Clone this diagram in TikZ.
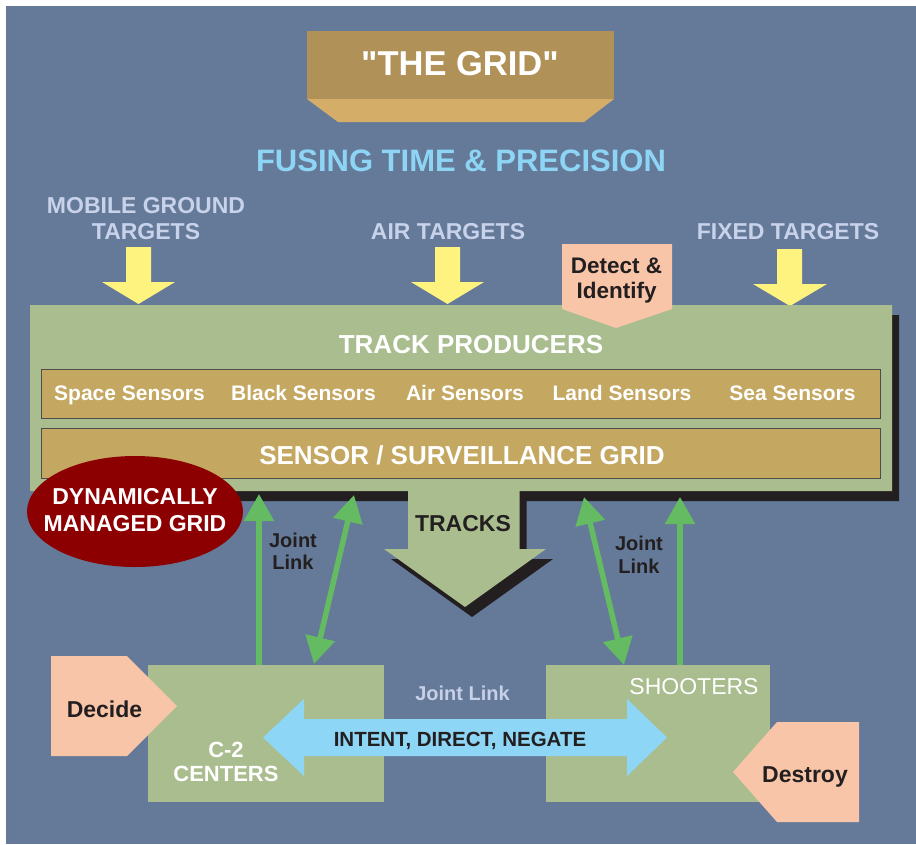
\documentclass[tikz,border=0pt]{standalone}
\usepackage{fontspec}
\setmainfont{Liberation Sans}
\newfontfamily\qfont{Liberation Sans}[Ligatures=TeXOff]
\usetikzlibrary{arrows.meta,shapes.geometric}
\definecolor{bgblue}{HTML}{647A98}
\definecolor{titletop}{HTML}{B09157}
\definecolor{titlebot}{HTML}{D4AD68}
\definecolor{fusecol}{HTML}{8ED4F4}
\definecolor{tgtcol}{HTML}{C8D2EA}
\definecolor{yel}{HTML}{FFF380}
\definecolor{peach}{HTML}{F8C5A8}
\definecolor{sage}{HTML}{A9BD8F}
\definecolor{tan}{HTML}{C4A862}
\definecolor{darkred}{HTML}{8C0002}
\definecolor{agreen}{HTML}{65BB62}
\definecolor{ablue}{HTML}{8DD6F6}
\definecolor{ink}{HTML}{231F20}
\definecolor{jlcol}{HTML}{C8D0E8}
\newcommand\fsz[1]{\fontsize{#1}{#1}\selectfont}
\begin{document}
\begin{tikzpicture}[x=1pt,y=-1pt,
  lbl/.style={anchor=base,inner sep=0pt,outer sep=0pt},
  wtxt/.style={lbl,text=white,font=\bfseries\fsz{#1}},
  dtxt/.style={lbl,text=ink,font=\bfseries\fsz{#1}},
  ttxt/.style={lbl,text=tgtcol,font=\bfseries\fsz{23}},
  yarrow/.style={fill=yel},
  peachshape/.style={fill=peach},
  sagefill/.style={fill=sage},
  tanbox/.style={fill=tan,draw=ink!80,line width=0.9pt},
  garrow/.style={draw=agreen,line width=5.5pt,-{Triangle[length=27pt,width=29pt]}},
  gdarrow/.style={draw=agreen,line width=5.5pt,{Triangle[length=27pt,width=29pt]}-{Triangle[length=27pt,width=29pt]}},
  greenbox/.style={fill=sage,inner sep=0pt,minimum width=#1,minimum height=137pt}
]
\useasboundingbox (0,0) rectangle (916,844);
\fill[white] (0,0) rectangle (916,844);
\fill[bgblue] (6,6) rectangle (916,844);

% title
\fill[titletop] (307,31) rectangle (614,99);
\fill[titlebot] (307,99) -- (614,99) -- (584,122) -- (338,122) -- cycle;
\node[lbl,text=white,font=\qfont\bfseries\fsz{34.5}] (title) at (460,75) {"THE GRID"};
\node[lbl,text=fusecol,font=\bfseries\fsz{31}] (fusing) at (461,171) {FUSING TIME \& PRECISION};

% target labels
\node[ttxt] (mob1) at (146,213) {MOBILE GROUND};
\node[ttxt] (mob2) at (146,239.5) {TARGETS};
\node[ttxt] (air) at (448,239) {AIR TARGETS};
\node[ttxt] (fixed) at (788,239) {FIXED TARGETS};

% yellow block arrows
\fill[yarrow] (126,247) -- (151,247) -- (151,282) -- (175,282) -- (138.5,304) -- (102,282) -- (126,282) -- cycle;
\fill[yarrow] (435,247) -- (460,247) -- (460,282) -- (484,282) -- (447.5,304) -- (411,282) -- (435,282) -- cycle;
\fill[yarrow] (777,249) -- (802,249) -- (802,284) -- (827,284) -- (790,306) -- (753,284) -- (777,284) -- cycle;

% main box with TRACKS arrow: shadow then face
\fill[ink] (37,315) -- (899,315) -- (899,501) -- (526.5,501) -- (526.5,559) -- (553,559) -- (472,617) -- (391,559) -- (415,559) -- (415,501) -- (37,501) -- cycle;
\fill[sagefill] (30,305) -- (892,305) -- (892,491) -- (519.5,491) -- (519.5,549) -- (546,549) -- (465,607) -- (384,549) -- (408,549) -- (408,491) -- (30,491) -- cycle;

% Detect & Identify
\fill[peachshape] (562,244) -- (672,244) -- (672,309) -- (616,328) -- (562,309) -- cycle;
\node[dtxt=22.5] (det1) at (616.5,273) {Detect \&};
\node[dtxt=22.5] (det2) at (616.5,298) {Identify};

\node[wtxt=26] (tp) at (471,353) {TRACK PRODUCERS};
\node[tanbox,anchor=north west,minimum width=839pt,minimum height=49pt,inner sep=0pt] (sensors) at (41,369) {};
\node[wtxt=21] (s1) at (129.5,400) {Space Sensors};
\node[wtxt=21] (s2) at (303.5,400) {Black Sensors};
\node[wtxt=21] (s3) at (465,400) {Air Sensors};
\node[wtxt=21] (s4) at (622,400) {Land Sensors};
\node[wtxt=21] (s5) at (792.5,400) {Sea Sensors};
\node[tanbox,anchor=north west,minimum width=839pt,minimum height=50pt,inner sep=0pt] (ssg) at (41,428) {};
\node[wtxt=26] (ssgt) at (462,464) {SENSOR / SURVEILLANCE GRID};
\node[dtxt=23] (tracks) at (463,531) {TRACKS};

% dynamically managed grid
\node[ellipse,fill=darkred,minimum width=216pt,minimum height=111pt,inner sep=0pt] (dmg) at (135,511.5) {};
\node[wtxt=23] (dmg1) at (135,504) {DYNAMICALLY};
\node[wtxt=23] (dmg2) at (135,531) {MANAGED GRID};

% bottom boxes
\node[greenbox=236pt] (c2) at (266,733.5) {};
\node[greenbox=224pt] (shoot) at (658,733.5) {};
\node[wtxt=22] (c2a) at (226,757) {C-2};
\node[wtxt=22] (c2b) at (226,781) {CENTERS};
\node[lbl,text=white,font=\fsz{23}] (shoott) at (694,694) {SHOOTERS};

% Decide / Destroy
\fill[peachshape] (51,656) -- (127,656) -- (177,706) -- (127,756) -- (51,756) -- cycle;
\node[dtxt=23] (decide) at (104.5,717) {Decide};
\fill[peachshape] (859,722) -- (777,722) -- (733,772) -- (777,822) -- (859,822) -- cycle;
\node[dtxt=23] (destroy) at (805,782) {Destroy};

% blue double arrow
\fill[ablue] (263,737.5) -- (304,699) -- (304,719) -- (627,719) -- (627,699) -- (667,737.5) -- (627,776) -- (627,756) -- (304,756) -- (304,776) -- cycle;
\node[lbl,text=jlcol,font=\bfseries\fsz{20}] (jlmid) at (462.5,700) {Joint Link};
\node[dtxt=20.5] (intent) at (460,746) {INTENT, DIRECT, NEGATE};

% green joint link arrows
\coordinate (gl1) at (259,494);
\coordinate (gd1t) at (354,495);
\coordinate (gd1b) at (314,664);
\coordinate (gd2t) at (584,497);
\coordinate (gd2b) at (624,665);
\coordinate (gr1) at (680,497);
\draw[garrow] (c2.north -| gl1) -- (gl1);
\draw[gdarrow] (gd1b) -- (gd1t);
\draw[gdarrow] (gd2b) -- (gd2t);
\draw[garrow] (shoot.north -| gr1) -- (gr1);
\node[dtxt=20] (jl1a) at (293,547) {Joint};
\node[dtxt=20] (jl1b) at (293,569) {Link};
\node[dtxt=20] (jl2a) at (639,550) {Joint};
\node[dtxt=20] (jl2b) at (639,573) {Link};
\end{tikzpicture}
\end{document}
